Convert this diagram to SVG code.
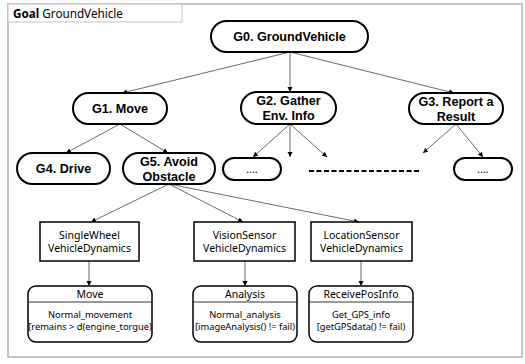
<svg xmlns="http://www.w3.org/2000/svg" width="525" height="364" viewBox="0 0 525 364">
<defs>
<marker id="ah" markerWidth="6" markerHeight="6" refX="5" refY="3" orient="auto" markerUnits="userSpaceOnUse">
<path d="M0,0.5 L5,3 L0,5.5 z" fill="#000"/>
</marker>
<style>
.frame{fill:#fff;stroke:#c4c4c4;stroke-width:2}
.goal{fill:#fff;stroke:#000;stroke-width:2}
.gt{font-family:"Liberation Sans",Arial,sans-serif;font-weight:bold;font-size:12.6px;text-anchor:middle;fill:#000}
.box{fill:#fff;stroke:#000;stroke-width:1.5}
.bt{font-family:"Noto Sans","Open Sans",sans-serif;font-size:10.5px;text-anchor:middle;fill:#000}
.st{font-family:"Noto Sans","Open Sans",sans-serif;font-size:9.3px;text-anchor:middle;fill:#000}
.ln{stroke:#444;stroke-width:0.8;fill:none;marker-end:url(#ah)}
</style>
</defs>
<rect class="frame" x="8" y="4" width="514" height="353"/>
<g id="title">
<rect x="8" y="4" width="174" height="18" fill="#fff" stroke="#c4c4c4" stroke-width="1"/>
<text x="13" y="17.5" font-family="Noto Sans, Open Sans, sans-serif" font-size="11.7px"><tspan font-weight="bold">Goal</tspan> GroundVehicle</text>
</g>
<g id="connectors">
<line class="ln" x1="290" y1="52" x2="122" y2="93"/>
<line class="ln" x1="290" y1="52" x2="290" y2="92"/>
<line class="ln" x1="290" y1="52" x2="454" y2="93"/>
<line class="ln" x1="120" y1="124" x2="66" y2="153"/>
<line class="ln" x1="120" y1="124" x2="168" y2="153"/>
<line class="ln" x1="290" y1="124" x2="253" y2="157"/>
<line class="ln" x1="290" y1="124" x2="290" y2="157"/>
<line class="ln" x1="290" y1="124" x2="327" y2="157"/>
<line class="ln" x1="456" y1="124" x2="423" y2="153"/>
<line class="ln" x1="456" y1="124" x2="483" y2="157"/>
<line class="ln" x1="169" y1="184" x2="91" y2="222"/>
<line class="ln" x1="169" y1="184" x2="243" y2="222"/>
<line class="ln" x1="169" y1="184" x2="359" y2="222"/>
<line class="ln" x1="89" y1="261" x2="89" y2="286"/>
<line class="ln" x1="245" y1="261" x2="245" y2="286"/>
<line class="ln" x1="361" y1="261" x2="361" y2="286"/>
<line x1="309" y1="171" x2="420" y2="171" stroke="#000" stroke-width="2" stroke-dasharray="5,2.5"/>
</g>
<g id="G0">
<rect class="goal" x="211" y="21" width="157" height="31" rx="15.5"/>
<text class="gt" x="289.5" y="41">G0. GroundVehicle</text>
</g>
<g id="G1">
<rect class="goal" x="73" y="93" width="94" height="31" rx="15.5"/>
<text class="gt" x="120" y="113">G1. Move</text>
</g>
<g id="G2">
<rect class="goal" x="241" y="92" width="95" height="32" rx="16"/>
<text class="gt" x="288.5" y="105">G2. Gather</text>
<text class="gt" x="288.5" y="120">Env. Info</text>
</g>
<g id="G3">
<rect class="goal" x="409" y="93" width="94" height="31" rx="15.5"/>
<text class="gt" x="456" y="105.5">G3. Report a</text>
<text class="gt" x="456" y="120.5">Result</text>
</g>
<g id="G4">
<rect class="goal" x="17" y="153" width="93" height="31" rx="15.5"/>
<text class="gt" x="63.5" y="173">G4. Drive</text>
</g>
<g id="G5">
<rect class="goal" x="123" y="153" width="92" height="31" rx="15.5"/>
<text class="gt" x="169" y="165.5">G5. Avoid</text>
<text class="gt" x="169" y="180.5">Obstacle</text>
</g>
<g id="G6">
<rect class="goal" x="223" y="158" width="58" height="22" rx="11"/>
<text class="bt" x="252" y="172.5">....</text>
</g>
<g id="G7">
<rect class="goal" x="454" y="158" width="58" height="22" rx="11"/>
<text class="bt" x="483" y="172.5">....</text>
</g>
<g id="SingleWheel">
<rect class="box" x="40" y="222" width="99" height="39"/>
<text class="bt" x="89.5" y="239">SingleWheel</text>
<text class="bt" x="89.5" y="252">VehicleDynamics</text>
</g>
<g id="VisionSensor">
<rect class="box" x="194" y="222" width="101" height="39"/>
<text class="bt" x="244.5" y="239">VisionSensor</text>
<text class="bt" x="244.5" y="252">VehicleDynamics</text>
</g>
<g id="LocationSensor">
<rect class="box" x="311" y="222" width="101" height="39"/>
<text class="bt" x="361.5" y="239">LocationSensor</text>
<text class="bt" x="361.5" y="252">VehicleDynamics</text>
</g>
<g id="Move">
<rect class="box" x="28" y="286" width="124" height="56" rx="8"/>
<line x1="28" y1="302" x2="152" y2="302" stroke="#000" stroke-width="0.8"/>
<text class="bt" x="90" y="298">Move</text>
<text class="st" x="90" y="318">Normal_movement</text>
<text class="st" x="90" y="330">[remains &gt; d(engine_torgue)</text>
</g>
<g id="Analysis">
<rect class="box" x="193" y="286" width="104" height="56" rx="8"/>
<line x1="193" y1="302" x2="297" y2="302" stroke="#000" stroke-width="0.8"/>
<text class="bt" x="245" y="298">Analysis</text>
<text class="st" x="245" y="318">Normal_analysis</text>
<text class="st" x="245" y="330">[imageAnalysis() != fail)</text>
</g>
<g id="ReceivePosInfo">
<rect class="box" x="309" y="286" width="104" height="56" rx="8"/>
<line x1="309" y1="302" x2="413" y2="302" stroke="#000" stroke-width="0.8"/>
<text class="bt" x="361" y="298">ReceivePosInfo</text>
<text class="st" x="361" y="318">Get_GPS_info</text>
<text class="st" x="361" y="330">[getGPSdata() != fail)</text>
</g>
</svg>
